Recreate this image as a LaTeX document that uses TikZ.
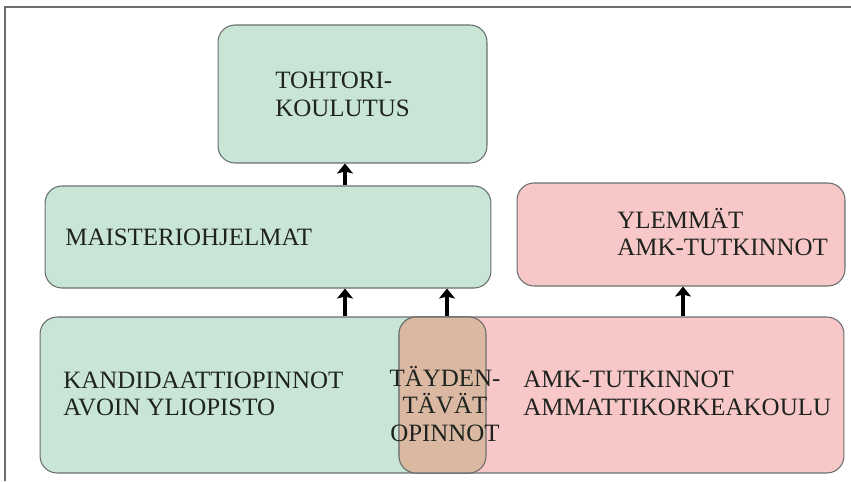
\documentclass[tikz,border=0pt]{standalone}
\usepackage{fontspec}
\setmainfont{Liberation Serif}
\usetikzlibrary{arrows.meta}

\definecolor{vihrea}{RGB}{200,229,214}
\definecolor{pinkki}{RGB}{248,199,199}
\definecolor{ruskea}{RGB}{218,184,162}
\definecolor{reuna}{RGB}{105,110,108}
\definecolor{tekstivari}{RGB}{30,35,32}

\begin{document}
\begin{tikzpicture}[x=0.02cm, y=-0.02cm,
		laatikko/.style={draw=reuna, line width=0.6pt, rounded corners=0.34cm, inner sep=0pt},
		otsikko/.style={text=tekstivari, font=\fontsize{14.2pt}{15.8pt}\selectfont, inner sep=0pt, align=left, anchor=west},
		nuoli/.style={-{Stealth[length=0.2cm, width=0.32cm, inset=0.04cm]}, line width=2.2pt}]
	\useasboundingbox (0,0) rectangle (851,481);
	\draw[reuna, line width=0.8pt] (5,481) -- (5,7) -- (851,7);

	% laatikot
	\node[laatikko, fill=vihrea, minimum width=5.38cm, minimum height=2.76cm] (tohtori) at (352.5,94) {};
	\node[laatikko, fill=vihrea, minimum width=8.92cm, minimum height=2.04cm] (maisteri) at (268,237) {};
	\node[laatikko, fill=pinkki, minimum width=6.56cm, minimum height=2.06cm] (ylemmat) at (681,234.5) {};
	\node[laatikko, fill=vihrea, minimum width=8.92cm, minimum height=3.12cm] (kandi) at (263,395) {};
	\node[laatikko, fill=pinkki, minimum width=8.9cm, minimum height=3.12cm] (amk) at (621.5,395) {};
	\node[laatikko, fill=ruskea, minimum width=1.74cm, minimum height=3.12cm] (taydent) at (442.5,395) {};

	% tekstit
	\node[otsikko] (tohtori-t) at (275,94.5) {TOHTORI-\\KOULUTUS};
	\node[otsikko] (maisteri-t) at (65,237) {MAISTERIOHJELMAT};
	\node[otsikko] (ylemmat-t) at (617,232) {YLEMMÄT\\AMK-TUTKINNOT};
	\node[otsikko] (kandi-t) at (63,394) {KANDIDAATTIOPINNOT\\AVOIN YLIOPISTO};
	\node[otsikko] (amk-t) at (523,393.5) {AMK-TUTKINNOT\\AMMATTIKORKEAKOULU};
	\node[otsikko, align=center, anchor=center] (taydent-t) at (445,404) {TÄYDEN-\\TÄVÄT\\OPINNOT};

	% nuolet
	\draw[nuoli] (maisteri.north -| 345,0) -- (tohtori.south -| 345,0);
	\draw[nuoli] (kandi.north -| 345,0) -- (maisteri.south -| 345,0);
	\draw[nuoli] (taydent.north -| 447,0) -- (maisteri.south -| 447,0);
	\draw[nuoli] (amk.north -| 683,0) -- (ylemmat.south -| 683,0);
\end{tikzpicture}
\end{document}
